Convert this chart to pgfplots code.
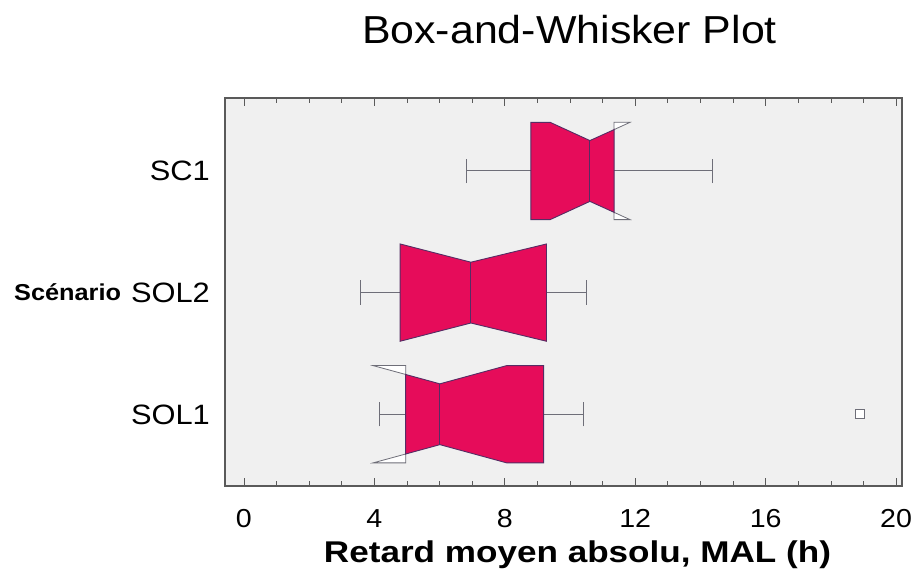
\documentclass[border=0pt]{standalone}
\usepackage{pgfplots}
\pgfplotsset{compat=1.18}
\usepackage{fontspec}
\setmainfont{Liberation Sans}[FakeStretch=1.1]
\newfontfamily\xlfont{Liberation Sans}[FakeStretch=1.17]
\definecolor{boxred}{RGB}{230,12,90}
\definecolor{boxedge}{RGB}{85,45,100}
\definecolor{whisk}{RGB}{110,110,120}
\definecolor{plotbg}{RGB}{240,240,240}
\definecolor{framec}{RGB}{90,90,90}
\begin{document}
\begin{tikzpicture}
\useasboundingbox (-225pt,-84pt) rectangle (692pt,486pt);
\begin{axis}[
 at={(0pt,0pt)}, anchor=south west,
 scale only axis, width=677pt, height=388pt,
 xmin=-0.58, xmax=20.18, ymin=0.41, ymax=3.6,
 axis background/.style={fill=plotbg},
 axis line style={framec, line width=1.2pt},
 xtick={0,4,...,20},
 minor xtick={1,2,3,5,6,7,9,10,11,13,14,15,17,18,19},
 tick align=inside, major tick length=8pt, minor tick length=5pt,
 tick style={framec, line width=0.8pt},
 ytick={1,2,3}, yticklabels={SOL1,SOL2,SC1},
 ytick style={draw=none},
 /pgf/number format/assume math mode=true,
 xticklabel style={font=\fontsize{26}{26}\selectfont, anchor=base, yshift=-41pt, inner sep=0pt},
 yticklabel style={font=\fontsize{28}{28}\selectfont, anchor=base east, inner sep=0pt, xshift=-15pt, yshift=-10pt},
 title={Box-and-Whisker Plot},
 title style={font=\fontsize{39}{39}\selectfont, at={(axis description cs:0.5,1)}, anchor=base, yshift=48pt, xshift=6pt, inner sep=0pt},
 xlabel={Retard moyen absolu, MAL (h)},
 xlabel style={font=\xlfont\bfseries\fontsize{30}{30}\selectfont, at={(axis description cs:0.5,0)}, anchor=base, yshift=-76pt, xshift=14pt, inner sep=0pt},
 every axis y label/.style={at={(axis description cs:0,0.4984)}, anchor=base west, xshift=-211pt, yshift=-8pt, inner sep=0pt},
 ylabel={Scénario},
 ylabel style={font=\bfseries\fontsize{23}{23}\selectfont},
]
% ---- whiskers ----
\addplot[whisk, line width=1pt, forget plot] coordinates {(6.84,3) (8.80,3)};
\addplot[whisk, line width=1pt, forget plot] coordinates {(11.35,3) (14.36,3)};
\addplot[whisk, line width=1pt, forget plot] coordinates {(6.84,2.9) (6.84,3.1)};
\addplot[whisk, line width=1pt, forget plot] coordinates {(14.36,2.9) (14.36,3.1)};
\addplot[whisk, line width=1pt, forget plot] coordinates {(3.56,2) (4.79,2)};
\addplot[whisk, line width=1pt, forget plot] coordinates {(9.28,2) (10.51,2)};
\addplot[whisk, line width=1pt, forget plot] coordinates {(3.56,1.9) (3.56,2.1)};
\addplot[whisk, line width=1pt, forget plot] coordinates {(10.51,1.9) (10.51,2.1)};
\addplot[whisk, line width=1pt, forget plot] coordinates {(4.17,1) (4.96,1)};
\addplot[whisk, line width=1pt, forget plot] coordinates {(9.19,1) (10.42,1)};
\addplot[whisk, line width=1pt, forget plot] coordinates {(4.17,0.9) (4.17,1.1)};
\addplot[whisk, line width=1pt, forget plot] coordinates {(10.42,0.9) (10.42,1.1)};
% ---- notch flaps ----
\addplot[draw=whisk, fill=white, line width=0.8pt, forget plot] coordinates {(11.35,3.4) (11.84,3.4) (11.35,3.34)} --cycle;
\addplot[draw=whisk, fill=white, line width=0.8pt, forget plot] coordinates {(11.35,2.6) (11.84,2.6) (11.35,2.66)} --cycle;
\addplot[draw=whisk, fill=white, line width=0.8pt, forget plot] coordinates {(4.96,1.4) (3.96,1.4) (4.96,1.327)} --cycle;
\addplot[draw=whisk, fill=white, line width=0.8pt, forget plot] coordinates {(4.96,0.6) (3.96,0.6) (4.96,0.673)} --cycle;
% ---- boxes ----
\addplot[draw=boxedge, fill=boxred, line width=0.9pt, forget plot] coordinates {(8.80,3.4) (9.39,3.4) (10.61,3.25) (11.35,3.34) (11.35,2.66) (10.61,2.75) (9.39,2.6) (8.80,2.6)} --cycle;
\addplot[draw=boxedge, fill=boxred, line width=0.9pt, forget plot] coordinates {(4.79,2.4) (6.96,2.25) (9.28,2.4) (9.28,1.6) (6.96,1.75) (4.79,1.6)} --cycle;
\addplot[draw=boxedge, fill=boxred, line width=0.9pt, forget plot] coordinates {(4.96,1.327) (6.01,1.25) (8.06,1.4) (9.19,1.4) (9.19,0.6) (8.06,0.6) (6.01,0.75) (4.96,0.673)} --cycle;
% ---- medians ----
\addplot[boxedge, line width=0.9pt, forget plot] coordinates {(10.61,3.25) (10.61,2.75)};
\addplot[boxedge, line width=0.9pt, forget plot] coordinates {(6.96,2.25) (6.96,1.75)};
\addplot[boxedge, line width=0.9pt, forget plot] coordinates {(6.01,1.25) (6.01,0.75)};
% ---- outlier ----
\addplot[only marks, mark=square*, mark size=4.5pt, mark options={draw=whisk, fill=white, line width=1.2pt}, forget plot] coordinates {(18.9,1)};
\end{axis}
\end{tikzpicture}
\end{document}
